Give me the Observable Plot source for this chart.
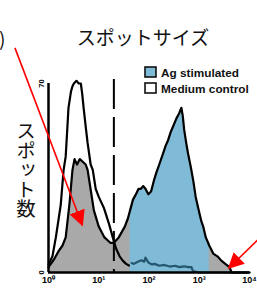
<!DOCTYPE html>
<html><head><meta charset="utf-8">
<script src="https://cdn.jsdelivr.net/npm/d3@7"></script>
<script src="https://cdn.jsdelivr.net/npm/@observablehq/plot@0.6"></script>
<style>
body{margin:0;background:#fff}
#chart{position:relative;width:257px;height:288px;overflow:hidden}
</style>
</head><body><div id="chart"></div>
<script>
// Spot size (log x) and spot count for the two conditions
const agX = [1, 1.3, 1.6, 1.9, 2.2, 2.6, 3.0, 3.3, 3.7, 4.2, 4.8, 5.5, 6.0, 7, 8, 10, 13, 17, 20, 25, 33, 38, 42, 48, 55, 62, 69, 77, 85, 97, 110, 125, 140, 160, 190, 215, 240, 270, 300, 350, 400, 440, 470, 500, 550, 600, 680, 760, 850, 950, 1100, 1200, 1350, 1500, 1580, 1900, 2300, 2750, 3300, 4000, 4400, 10000];
const agY = [2, 5, 8, 10, 13, 25, 38, 42, 40, 42, 41, 40, 38, 30, 23, 17, 13, 11, 11, 13, 17, 20, 23, 27, 29, 31, 31, 32, 31, 29, 30, 34, 37, 40, 44, 47, 49, 52, 54, 57, 59, 61, 58, 53, 48, 44, 39, 34, 28, 24, 19, 17, 13, 11, 10, 7, 6, 4.4, 3.2, 2, 0, 0];
const medX = [1, 1.2, 1.4, 1.75, 2.0, 2.2, 2.5, 2.8, 3.0, 3.2, 3.6, 4.0, 4.4, 4.7, 5.0, 5.5, 6.0, 6.9, 7.6, 8.7, 10, 12.6, 16, 19, 22, 26, 30, 35, 40, 45, 50, 60, 70, 80, 85, 95, 100, 115, 130, 160, 200, 260, 330, 400, 500, 600, 700, 750, 1000, 10000];
const medY = [3, 6, 13, 25, 38, 43, 61, 67, 69, 70, 71, 70, 70, 66, 61, 54, 48, 40, 38, 31, 28, 24, 18, 13, 9, 6, 4.4, 3.2, 2.6, 3.5, 3.2, 4, 4.5, 4, 5.5, 4, 3.5, 3, 3.2, 2.5, 2.8, 2.2, 2.5, 2, 2.3, 2, 2, 0.5, 0, 0];
const gate = [42, 1580];
const cutoff = [20];
const xTicks = [1, 10, 100, 1000, 10000];
const xTickLabels = ["10⁰", "10¹", "10²", "10³", "10⁴"];
const yTicks = [0, 70];
const seriesNames = ["Ag stimulated", "Medium control"];
const titleText = "スポットサイズ";
const yLabelText = "スポット数";

const ag = agX.map((x, i) => ({x, y: agY[i]}));
const med = medX.map((x, i) => ({x, y: medY[i]}));
const inGate = d => d.x >= gate[0] && d.x <= gate[1];

const BLUE = "#7fbbd6", GRAY = "#a9a9a9";

const plot = Plot.plot({
  width: 257, height: 288,
  marginLeft: 48, marginRight: 8, marginTop: 83, marginBottom: 16,
  style: {fontFamily: "Liberation Sans, Arial, sans-serif", background: "#fff", overflow: "visible"},
  x: {type: "log", domain: [1, 10000], label: null},
  y: {domain: [0, 70], label: null},
  marks: [
    Plot.areaY(med, {x: "x", y: "y", fill: "white"}),
    Plot.areaY(ag, {x: "x", y: "y", fill: GRAY}),
    Plot.areaY(ag.filter(inGate), {x: "x", y: "y", fill: BLUE}),
    Plot.lineY(med, {x: "x", y: "y", stroke: d => d.x >= gate[0] ? "#24566e" : "black", strokeWidth: 2.2}),
    Plot.lineY(ag, {x: "x", y: "y", stroke: "black", strokeWidth: 2.2}),
    Plot.ruleX(cutoff, {stroke: "black", strokeWidth: 2, strokeDasharray: "30,8", y1: 71.5, y2: 0}),
    Plot.ruleY([0], {stroke: "black", strokeWidth: 2.5, x1: 1, x2: 10000}),
    Plot.ruleX([1], {stroke: "black", strokeWidth: 2.5, y1: 0, y2: 70}),
    Plot.axisX({ticks: xTicks, tickSize: 0, tickPadding: 4, label: null, tickFormat: (d) => xTickLabels[xTicks.indexOf(d)], fontWeight: "bold", fontSize: 9}),
    Plot.axisY({ticks: yTicks, tickSize: 0, tickPadding: 5, label: null, tickRotate: -90, fontWeight: "bold", fontSize: 7.5})
  ]
});

const svg = d3.select(plot);
const sx = plot.scale("x"), sy = plot.scale("y");

// arrows (defined in data units, positioned through the plot's scales)
const arrows = [
  {x1: 0.22, y1: 83, x2: 4.8, y2: 17.4},
  {x1: 15100, y1: 12, x2: 3980, y2: 1.5}
];
const defs = svg.append("defs");
defs.append("marker").attr("id", "redhead").attr("viewBox", "0 -5 10 10")
  .attr("refX", 9).attr("refY", 0).attr("markerUnits", "userSpaceOnUse")
  .attr("markerWidth", 16).attr("markerHeight", 16).attr("orient", "auto")
  .append("path").attr("d", "M0,-5L10,0L0,5Z").attr("fill", "#ff0000");
svg.append("g").selectAll("line").data(arrows).join("line")
  .attr("x1", d => sx.apply(d.x1)).attr("y1", d => sy.apply(d.y1))
  .attr("x2", d => sx.apply(d.x2)).attr("y2", d => sy.apply(d.y2))
  .attr("stroke", "#ff0000").attr("stroke-width", 1.6).attr("marker-end", "url(#redhead)");

// title, y label, cropped annotation
const jp = "Noto Sans CJK JP, sans-serif";
svg.append("text").attr("x", 143).attr("y", 45).attr("text-anchor", "middle")
  .attr("font-family", jp).attr("font-size", 19).attr("fill", "#111").text(titleText);
svg.append("text").attr("x", 26).attr("y", 121).attr("writing-mode", "vertical-rl").attr("text-anchor", "start")
  .attr("font-family", jp).attr("font-size", 19.5).attr("fill", "#111").text(yLabelText);
svg.append("text").attr("x", -1).attr("y", 46).attr("text-anchor", "start")
  .attr("font-family", jp).attr("font-size", 19).attr("fill", "#111").text(")");

// legend
const lg = svg.append("g").attr("font-family", "Liberation Sans, Arial, sans-serif")
  .attr("font-weight", "bold").attr("font-size", 11.8).attr("text-anchor", "start");
seriesNames.forEach((name, i) => {
  const y = 67 + i * 16;
  lg.append("rect").attr("x", 145).attr("y", y).attr("width", 11).attr("height", 10)
    .attr("fill", i === 0 ? BLUE : "white").attr("stroke", "#111").attr("stroke-width", 1.6);
  lg.append("text").attr("x", 161).attr("y", y + 9.5).attr("fill", "#111").text(name);
});

document.getElementById("chart").appendChild(plot);
</script>
</body></html>
